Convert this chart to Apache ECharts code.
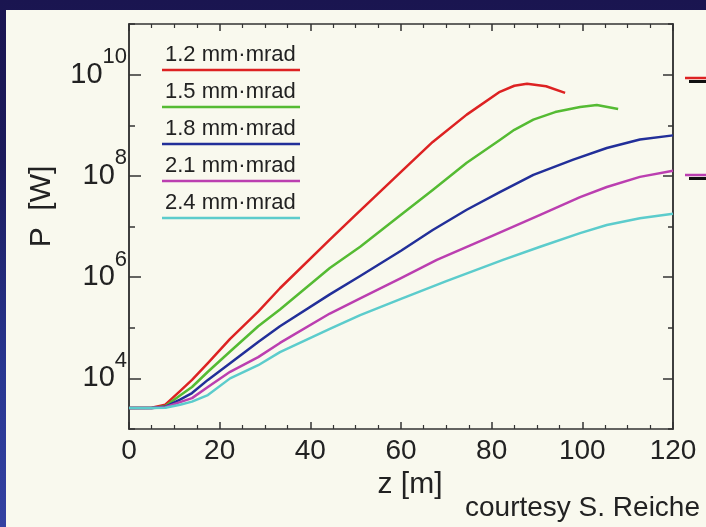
<!DOCTYPE html>
<html>
<head>
<meta charset="utf-8">
<title>P vs z</title>
<script src="https://cdn.jsdelivr.net/npm/echarts@6/dist/echarts.min.js"></script>
<style>
  body { margin: 0; background: linear-gradient(#1a1550 0%, #1c1b5c 30%, #283690 70%, #3442a2 100%); }
  #wrap { position: relative; width: 706px; height: 527px; overflow: hidden; }
  #panel { position: absolute; left: 6px; top: 10px; width: 700px; height: 517px; background: #f9f9ee; }
  #main { position: absolute; left: 0; top: 0; width: 706px; height: 527px; }
</style>
</head>
<body>
<div id="wrap">
  <div id="panel"></div>
  <div id="main"></div>
</div>
<script>
  // emittance labels and colours
  var names = ['1.2 mm·mrad', '1.5 mm·mrad', '1.8 mm·mrad', '2.1 mm·mrad', '2.4 mm·mrad'];
  var colors = ['#dd2222', '#55bb33', '#222f99', '#bb3fb0', '#5ccccc'];

  // [z (m), P (W)]
  var p12 = [[0, 2.6e3], [5, 2.63e3], [8, 3.02e3], [11.25, 5.62e3], [13.9, 9.33e3], [17.4, 2.0e4], [22.3, 6.03e4],
    [28.5, 2.09e5], [33.3, 6.03e5], [44.3, 5.5e6], [50, 1.7e7], [60, 1.2e8], [67, 4.68e8], [74.5, 1.62e9],
    [81.8, 4.57e9], [85, 6.03e9], [87.8, 6.61e9], [92, 5.89e9], [96.2, 4.37e9]];
  var p15 = [[0, 2.6e3], [5, 2.6e3], [8, 2.82e3], [11.25, 4.57e3], [13.9, 6.76e3], [17.4, 1.35e4], [22.3, 3.39e4],
    [28.5, 1.07e5], [33.3, 2.29e5], [44.3, 1.51e6], [51, 3.98e6], [60, 1.7e7], [67, 5.25e7], [74.5, 1.82e8],
    [81.8, 5.13e8], [85, 8.13e8], [89.2, 1.29e9], [94, 1.82e9], [99.5, 2.29e9], [103.2, 2.51e9], [107.9, 2.09e9]];
  var p18 = [[0, 2.6e3], [5, 2.6e3], [8, 2.75e3], [11.25, 3.8e3], [13.9, 5.13e3], [17.4, 9.33e3], [22.3, 2.0e4],
    [28.5, 5.25e4], [33.3, 1.07e5], [44.3, 4.57e5], [51, 1.05e6], [60, 3.31e6], [67, 8.51e6], [74.5, 2.14e7],
    [81.8, 4.79e7], [89.2, 1.05e8], [98, 2.09e8], [105.4, 3.55e8], [112.7, 5.25e8], [120, 6.31e8]];
  var p21 = [[0, 2.6e3], [5, 2.6e3], [8, 2.69e3], [11.25, 3.39e3], [13.9, 4.07e3], [17.4, 6.76e3], [22.3, 1.35e4],
    [28.5, 2.63e4], [33.3, 5.01e4], [44.3, 1.91e5], [51, 3.8e5], [60, 9.55e5], [67.9, 2.19e6], [80, 6.46e6],
    [90.7, 1.7e7], [99.5, 3.8e7], [105.4, 6.03e7], [112.7, 9.55e7], [120, 1.26e8]];
  var p24 = [[0, 2.6e3], [5, 2.6e3], [8, 2.63e3], [11.25, 3.02e3], [13.9, 3.47e3], [17.4, 4.68e3], [22.3, 1.0e4],
    [28.5, 1.82e4], [33.3, 3.31e4], [44.3, 9.55e4], [51, 1.78e5], [60, 3.72e5], [70, 8.32e5], [82.5, 2.19e6],
    [90.7, 3.98e6], [99.5, 7.41e6], [105.4, 1.07e7], [112.7, 1.45e7], [120, 1.78e7]];
  var curves = [p12, p15, p18, p21, p24];

  // axis ticks
  var yMajor = [1e4, 1e6, 1e8, 1e10];
  var yMinor = [1e3, 1e5, 1e7, 1e9, 1e11];

  var font = 'Liberation Sans, Arial, sans-serif';
  var ink = '#222';
  var axisLine = { show: true, lineStyle: { color: '#333', width: 1.5 } };

  function xAx(pos, withLabels) {
    return {
      type: 'value', min: 0, max: 120, interval: 20, position: pos,
      axisLine: axisLine,
      axisTick: { show: true, inside: true, length: 7, lineStyle: { color: '#333', width: 1.5 } },
      minorTick: { show: true, splitNumber: 4, length: 4, lineStyle: { color: '#333', width: 1.2 } },
      splitLine: { show: false },
      axisLabel: { show: withLabels, fontSize: 28, color: ink, margin: 8, fontFamily: font }
    };
  }

  function yAx(pos, ticks, len, labels) {
    return {
      type: 'log', logBase: 10, min: 1e3, max: 1e11, position: pos,
      axisLine: axisLine,
      axisTick: { show: true, inside: true, length: len, customValues: ticks, lineStyle: { color: '#333', width: 1.5 } },
      splitLine: { show: false },
      axisLabel: labels ? {
        show: true, customValues: ticks, margin: 2, padding: [0, 0, 14, 0],
        formatter: function (v) {
          return '{b|10}{s|' + Math.round(Math.log10(v)) + '}';
        },
        rich: {
          b: { fontSize: 29, fontFamily: font, color: ink, verticalAlign: 'bottom' },
          s: { fontSize: 22, fontFamily: font, color: ink, verticalAlign: 'bottom', padding: [0, 0, 21, 0] }
        }
      } : { show: false }
    };
  }

  var xAxes = [xAx('bottom', true), xAx('top', false)];
  xAxes[0].name = 'z [m]';
  xAxes[0].nameLocation = 'middle';
  xAxes[0].nameGap = 40;
  xAxes[0].nameTextStyle = { fontSize: 30, color: ink, fontFamily: font, padding: [0, 0, 0, 18] };

  var yAxes = [
    yAx('left', yMajor, 12, true),
    yAx('left', yMinor, 6, false),
    yAx('right', yMajor, 10, false),
    yAx('right', yMinor, 5, false)
  ];
  yAxes[0].name = 'P  [W]';
  yAxes[0].nameLocation = 'middle';
  yAxes[0].nameGap = 72;
  yAxes[0].nameTextStyle = { fontSize: 30, color: ink, fontFamily: font, padding: [0, 0, 0, 40] };

  var series = curves.map(function (d, i) {
    return {
      type: 'line', name: names[i], data: d, xAxisIndex: 0, yAxisIndex: 0,
      showSymbol: false, smooth: false,
      lineStyle: { color: colors[i], width: 2.5, join: 'round' }, itemStyle: { color: colors[i] }
    };
  });

  // in-plot key: name over a coloured rule
  var graphics = [];
  names.forEach(function (n, i) {
    graphics.push({
      type: 'text', left: 165, top: 44 + 37 * i,
      style: { text: n, font: '22px ' + font, fill: ink }
    });
    graphics.push({
      type: 'line', shape: { x1: 162, y1: 70 + 37 * i, x2: 300, y2: 70 + 37 * i },
      style: { stroke: colors[i], lineWidth: 2.5 }
    });
  });
  // clipped key of the neighbouring panel
  [[78, colors[0]], [175, colors[3]]].forEach(function (r) {
    graphics.push({ type: 'line', shape: { x1: 685, y1: r[0], x2: 706, y2: r[0] }, style: { stroke: r[1], lineWidth: 2.5 } });
    graphics.push({ type: 'line', shape: { x1: 689, y1: r[0] + 3.5, x2: 706, y2: r[0] + 3.5 }, style: { stroke: '#111', lineWidth: 3 } });
  });
  graphics.push({
    type: 'text', left: 465, top: 494,
    style: { text: 'courtesy S. Reiche', font: '28px ' + font, fill: ink }
  });

  var chart = echarts.init(document.getElementById('main'));
  chart.setOption({
    backgroundColor: 'transparent',
    animation: false,
    grid: { left: 129, top: 24, width: 544, height: 405, show: false },
    xAxis: xAxes,
    yAxis: yAxes,
    series: series,
    graphic: graphics
  });
</script>
</body>
</html>
